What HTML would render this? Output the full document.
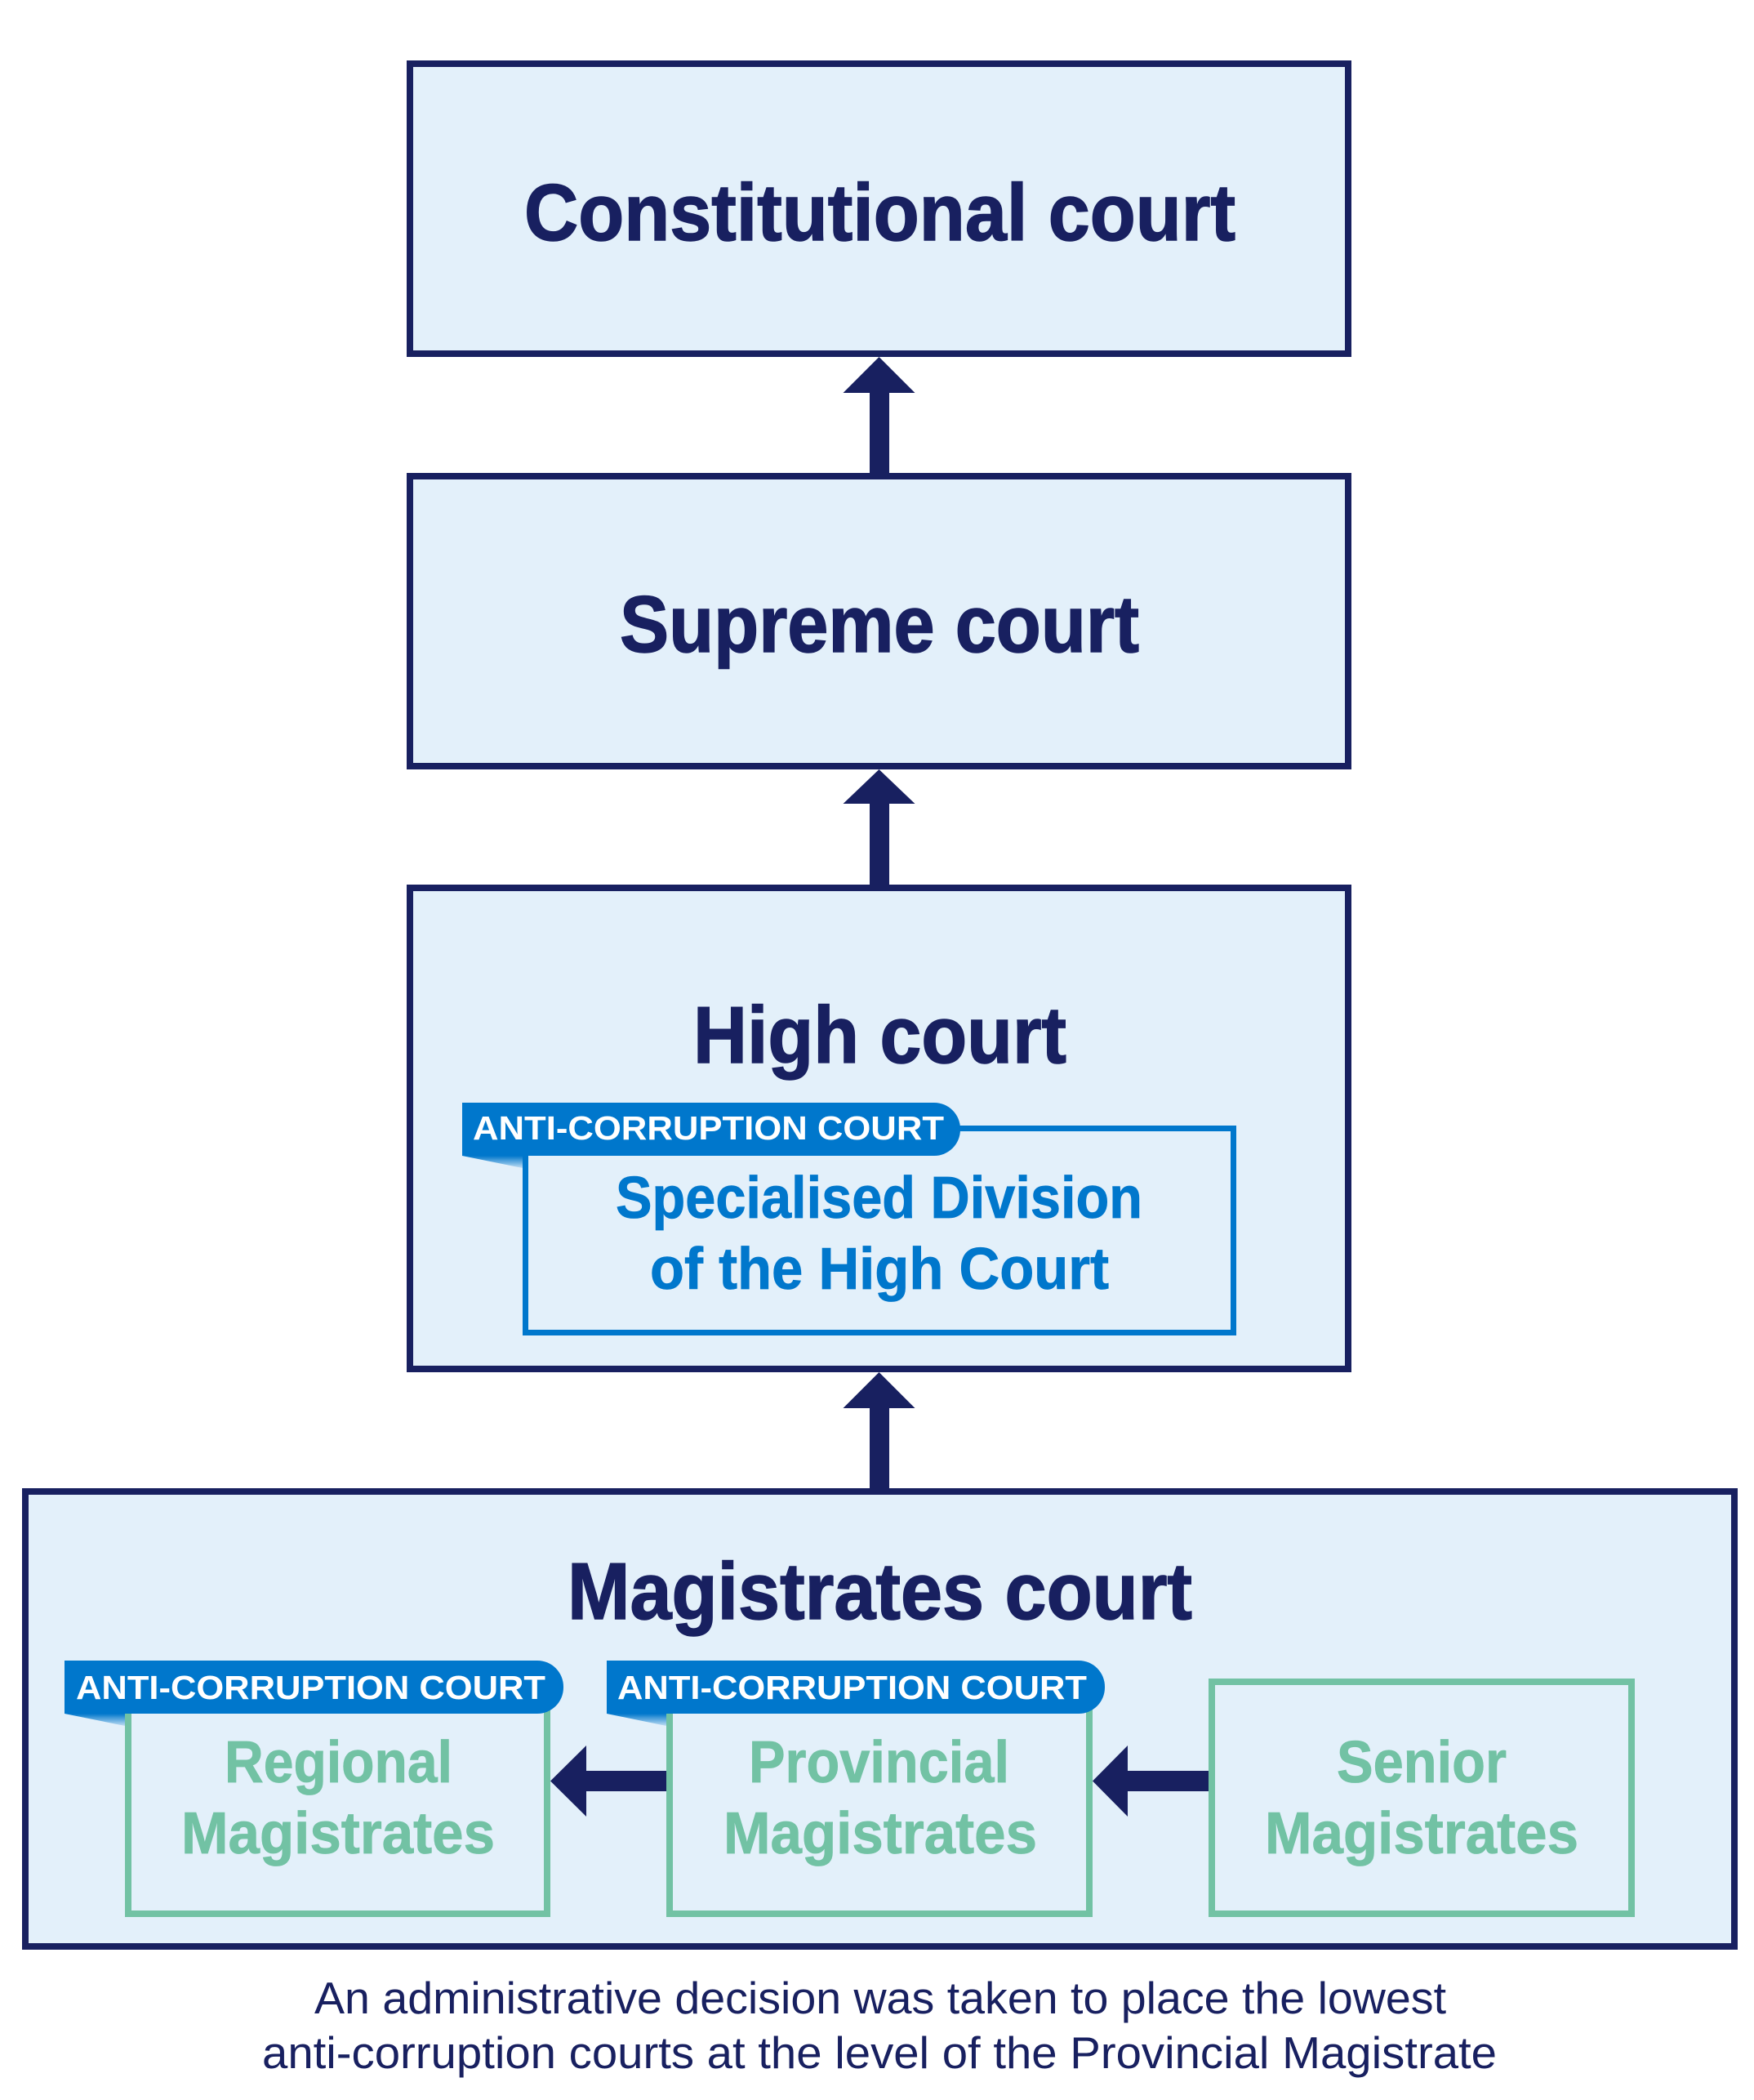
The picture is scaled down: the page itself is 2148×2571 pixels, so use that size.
<!DOCTYPE html>
<html><head><meta charset="utf-8"><style>
html,body{margin:0;padding:0;background:#fff;width:2148px;height:2571px;overflow:hidden}
svg{display:block}
text{font-family:"Liberation Sans",sans-serif;font-weight:700}
.h{font-size:98px;fill:#182060;stroke:#182060;stroke-width:1.5px}
.s{font-size:72px;fill:#0077CC;stroke:#0077CC;stroke-width:.8px}
.g{font-size:72px;fill:#72C2A4;stroke:#72C2A4;stroke-width:.8px}
.t{font-size:41px;fill:#fff}
.c{font-size:55px;fill:#182060;font-weight:400}
</style></head><body>
<svg xmlns="http://www.w3.org/2000/svg" width="2148" height="2571" viewBox="0 0 2148 2571">
<defs><linearGradient id="f" x1="0" y1="0" x2="0" y2="1"><stop offset="0" stop-color="#0077CC"/><stop offset="1" stop-color="#0077CC" stop-opacity=".15"/></linearGradient></defs>
<rect width="2148" height="2571" fill="#fff"/>
<g fill="#E3F0FA" stroke="#182060" stroke-width="8">
<rect x="502" y="78" width="1149" height="355"/>
<rect x="502" y="583" width="1149" height="355"/>
<rect x="502" y="1087" width="1149" height="589"/>
<rect x="31" y="1826" width="2093" height="557"/>
</g>
<g fill="#182060">
<path d="M1076.500 437L1120.500 481H1089V579H1065V481H1032.500Z"/>
<path d="M1076.500 942L1120.500 984H1089V1083H1065V984H1032.500Z"/>
<path d="M1076.500 1680L1120.500 1724H1089V1822H1065V1724H1032.500Z"/>
<path d="M674 2180.5L718 2137V2168H816V2193H718V2224Z"/>
<path d="M1338 2180.5L1381 2137V2168H1480V2193H1381V2224Z"/>
</g>
<rect x="643.500" y="1381.500" width="867" height="250" fill="none" stroke="#0077CC" stroke-width="7"/>
<g fill="none" stroke="#72C2A4" stroke-width="8">
<rect x="157" y="2059" width="513" height="284"/>
<rect x="820" y="2059" width="514" height="284"/>
<rect x="1484" y="2059" width="514" height="284"/>
</g>
<g>
<path d="M566 1350H1144A32 32 0 0 1 1176 1382V1383A32 32 0 0 1 1144 1415H566Z" fill="#0077CC"/>
<path d="M566 1415L640 1430V1415Z" fill="url(#f)"/>
<path d="M79 2033H658A32 32 0 0 1 690 2065V2066A32 32 0 0 1 658 2098H79Z" fill="#0077CC"/>
<path d="M79 2098L153 2113V2098Z" fill="url(#f)"/>
<path d="M743 2033H1321A32 32 0 0 1 1353 2065V2066A32 32 0 0 1 1321 2098H743Z" fill="#0077CC"/>
<path d="M743 2098L816 2113V2098Z" fill="url(#f)"/>
</g>
<text class="h" x="642" y="294" textLength="871" lengthAdjust="spacingAndGlyphs">Constitutional court</text>
<text class="h" x="759" y="798" textLength="636" lengthAdjust="spacingAndGlyphs">Supreme court</text>
<text class="h" x="849" y="1301" textLength="457" lengthAdjust="spacingAndGlyphs">High court</text>
<text class="h" x="695" y="1982" textLength="765" lengthAdjust="spacingAndGlyphs">Magistrates court</text>
<text class="t" x="579" y="1395" textLength="577" lengthAdjust="spacingAndGlyphs">ANTI-CORRUPTION COURT</text>
<text class="t" x="93" y="2080" textLength="575" lengthAdjust="spacingAndGlyphs">ANTI-CORRUPTION COURT</text>
<text class="t" x="756" y="2080" textLength="575" lengthAdjust="spacingAndGlyphs">ANTI-CORRUPTION COURT</text>
<text class="s" x="754" y="1491" textLength="645" lengthAdjust="spacingAndGlyphs">Specialised Division</text>
<text class="s" x="796" y="1578" textLength="562" lengthAdjust="spacingAndGlyphs">of the High Court</text>
<text class="g" x="275" y="2182" textLength="279" lengthAdjust="spacingAndGlyphs">Regional</text>
<text class="g" x="222" y="2269" textLength="384" lengthAdjust="spacingAndGlyphs">Magistrates</text>
<text class="g" x="917" y="2182" textLength="319" lengthAdjust="spacingAndGlyphs">Provincial</text>
<text class="g" x="886" y="2269" textLength="384" lengthAdjust="spacingAndGlyphs">Magistrates</text>
<text class="g" x="1637" y="2182" textLength="208" lengthAdjust="spacingAndGlyphs">Senior</text>
<text class="g" x="1549" y="2269" textLength="384" lengthAdjust="spacingAndGlyphs">Magistrates</text>
<text class="c" x="385" y="2465" textLength="1386" lengthAdjust="spacingAndGlyphs">An administrative decision was taken to place the lowest</text>
<text class="c" x="321" y="2532" textLength="1512" lengthAdjust="spacingAndGlyphs">anti-corruption courts at the level of the Provincial Magistrate</text>
</svg>
</body></html>
